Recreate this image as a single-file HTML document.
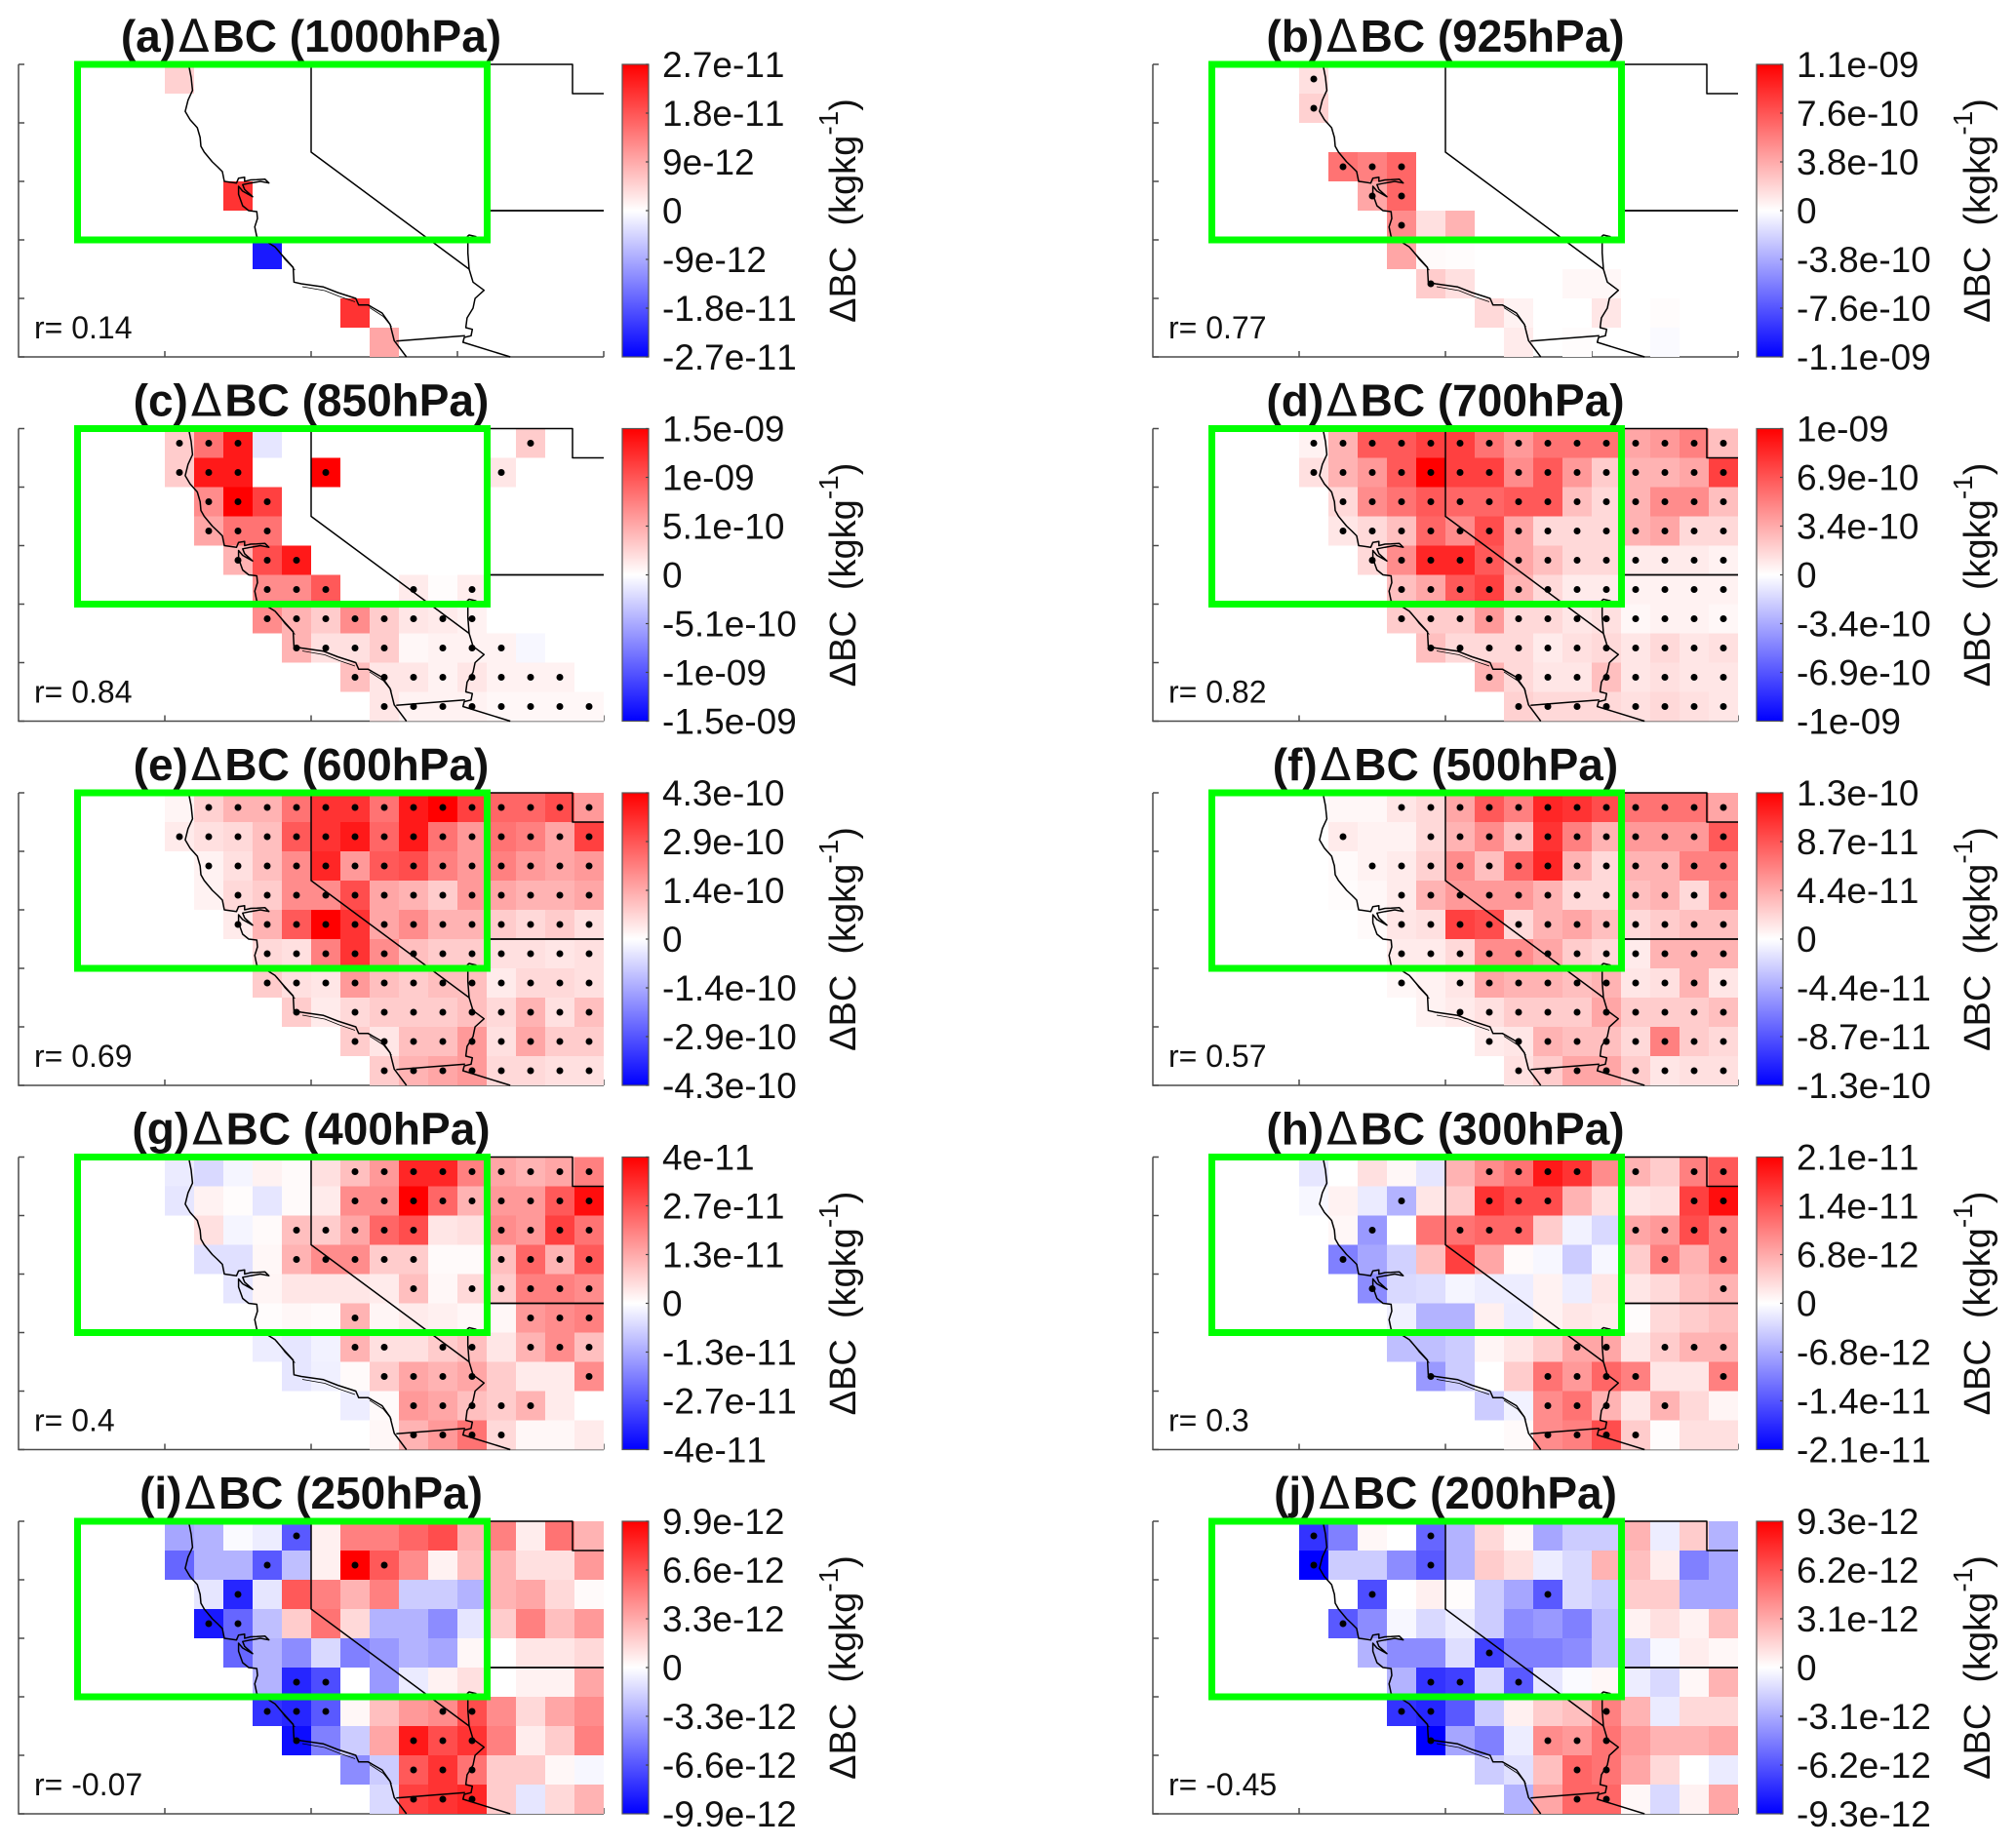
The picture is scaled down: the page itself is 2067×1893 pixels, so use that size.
<!DOCTYPE html>
<html lang="en">
<head>
<meta charset="utf-8">
<title>Delta BC maps by pressure level</title>
<style>
html,body{margin:0;padding:0;background:#fff;}
svg{display:block;}
text{font-family:"Liberation Sans",Arial,sans-serif;fill:#111;font-kerning:none;}
</style>
</head>
<body>
<svg id="fig" xmlns="http://www.w3.org/2000/svg" width="2067" height="1893" viewBox="0 0 2067 1893">
<defs>
<linearGradient id="cbgrad" x1="0" y1="0" x2="0" y2="1">
<stop offset="0" stop-color="#ff0000"/><stop offset="0.5" stop-color="#ffffff"/><stop offset="1" stop-color="#0000ff"/>
</linearGradient>
<g id="basemap" fill="none" stroke="#000" stroke-linejoin="round">
<path stroke-width="1.5" d="M175,3.3 L177,13.3 L178.4,26.7 L173.8,36.7 L170.9,48.3 L175.9,56.7 L183.3,65 L186.2,75 L187,84 L190.4,90 L198.7,100 L204,105 L209,110 L211,120 L223.5,121.7 L225.6,116.7 L231.8,115.7 L231.8,120 L238,118.5 L244.3,118.3 L252.6,117.7 L256.7,121.7 L248,120 L238,121.7 L229.8,123.3 L231.8,128.3 L240,135.7 L229.8,130 L225.6,125 L225.6,133.3 L229.8,145 L236,150 L244.3,151 L245,158 L242.2,166.7 L244.3,176.7 L252.6,180.7 L263,187.3 L271.2,196.7 L281.6,208.3 L282.4,223.3 L289.9,225 L312.7,228.3 L327.2,234 L345.8,240 L348.7,246.7 L358.3,246.7 L372.8,255 L381,266.7 L385.2,283.3 L397.7,300"/>
<path stroke-width="0.8" d="M265,189 L273,200 L283.5,211 M291,228 L314,232 L329,238 L345,243.5 M360,249.5 L374,258.5 L382.5,269"/>
<path stroke-width="1.5" d="M459.9,176.7 L462,175 L469.4,176.7 M460.7,176.7 L460.7,193.3 L462,210 L466,223.3 L477.3,231.7 L468.1,240 L466,250 L459.9,260 L458.6,270 L465.3,271.7 L464,278.3 L457,280 L455.7,285 L504.2,300"/>
<path stroke-width="1.5" d="M387.3,283.7 L457.8,278.3"/>
<path stroke-width="1.5" d="M300,0 L300,90 L462,210"/>
<path stroke-width="1.5" d="M300,0 L568,0 L568,30 L600,30"/>
<path stroke-width="1.8" d="M478,150 L600,150"/>
</g>
</defs>
</svg>
<script>
const _ = null;
/* Cell values: percent of each panel's colour limit; columns run from the 6th to the 20th grid column, rows north to south */
const valuesA = [
[18,_,_,_,_,_,_,_,_,_,_,_,_,_,_],
[_,_,_,_,_,_,_,_,_,_,_,_,_,_,_],
[_,_,_,_,_,_,_,_,_,_,_,_,_,_,_],
[_,_,_,_,_,_,_,_,_,_,_,_,_,_,_],
[_,_,80,_,_,_,_,_,_,_,_,_,_,_,_],
[_,_,_,_,_,_,_,_,_,_,_,_,_,_,_],
[_,_,_,-90,_,_,_,_,_,_,_,_,_,_,_],
[_,_,_,_,_,_,_,_,_,_,_,_,_,_,_],
[_,_,_,_,_,_,80,_,_,_,_,_,_,_,_],
[_,_,_,_,_,_,_,35,_,_,_,_,_,_,_]];
const valuesB = [
[12,_,_,_,_,_,_,_,_,_,_,_,_,_,_],
[18,_,_,_,_,_,_,_,_,_,_,_,_,_,_],
[_,_,_,_,_,_,_,_,_,_,_,_,_,_,_],
[_,55,50,60,_,_,_,_,_,_,_,_,_,_,_],
[_,_,35,60,_,_,_,_,_,_,_,_,_,_,_],
[_,_,_,45,12,30,_,_,_,_,_,_,_,_,_],
[_,_,_,35,2,1,_,_,_,_,_,_,_,_,_],
[_,_,_,_,20,12,_,_,_,3,3,_,_,_,_],
[_,_,_,_,_,_,15,5,_,_,10,_,1,_,_],
[_,_,_,_,_,_,_,8,_,1,_,_,-2,_,_]];
const valuesC = [
[20,55,90,-10,_,_,_,_,_,_,_,_,20,_,_],
[20,90,90,_,_,100,_,_,_,_,_,10,_,_,_],
[_,45,100,75,_,_,_,_,_,_,_,_,_,_,_],
[_,35,55,55,_,_,_,_,_,_,_,_,_,_,_],
[_,_,30,70,90,_,_,_,_,_,_,_,_,_,_],
[_,_,_,45,45,65,_,_,8,1,7,_,_,_,_],
[_,_,_,45,30,20,45,20,10,8,5,_,_,_,_],
[_,_,_,_,30,12,12,20,3,5,5,5,-3,_,_],
[_,_,_,_,_,_,25,10,10,5,10,5,5,5,_],
[_,_,_,_,_,_,_,10,5,5,5,3,3,3,3]];
const valuesD = [
[5,30,65,65,75,75,55,40,55,55,55,35,40,50,25],
[12,30,40,65,100,75,75,45,65,40,20,30,30,35,75],
[_,15,45,55,65,60,60,65,65,25,15,30,45,45,25],
[_,10,15,25,60,45,70,35,15,15,15,30,35,15,15],
[_,_,15,45,85,85,65,35,25,15,15,8,8,8,5],
[_,_,_,25,35,65,75,30,15,8,8,5,5,5,5],
[_,_,_,20,20,20,40,15,15,10,12,3,5,5,3],
[_,_,_,_,25,15,15,15,8,12,15,10,15,10,12],
[_,_,_,_,_,_,30,15,10,10,25,10,12,10,10],
[_,_,_,_,_,_,_,18,15,15,15,12,15,12,10]];
const valuesE = [
[4,18,30,30,55,80,80,55,90,100,75,60,60,70,40],
[8,12,15,25,65,80,90,60,90,55,40,55,50,35,75],
[_,5,12,25,45,85,40,65,70,50,40,50,40,35,40],
[_,5,15,20,45,45,70,35,30,20,40,35,30,30,35],
[_,_,8,30,65,100,80,35,45,30,30,20,15,20,12],
[_,_,_,15,12,50,80,45,25,20,20,12,12,10,12],
[_,_,_,20,12,10,40,25,20,25,25,8,15,15,12],
[_,_,_,_,20,8,15,20,20,20,25,15,30,12,25],
[_,_,_,_,_,_,20,10,25,25,40,12,35,20,20],
[_,_,_,_,_,_,_,20,30,35,40,15,15,12,12]];
const valuesF = [
[0,3,3,10,15,35,65,50,85,80,70,55,55,55,35],
[_,8,5,5,15,30,45,25,80,50,30,40,40,40,65],
[_,2,5,8,18,45,25,60,85,30,15,30,30,50,50],
[_,1,3,8,30,40,40,40,30,15,15,25,30,15,45],
[_,_,2,10,12,75,70,15,30,35,25,15,20,25,25],
[_,_,_,8,8,15,45,45,35,20,15,8,30,30,30],
[_,_,_,3,5,10,35,30,30,25,30,10,12,30,10],
[_,_,_,_,5,8,12,20,20,20,35,20,20,20,25],
[_,_,_,_,_,_,8,10,30,25,25,15,50,20,15],
[_,_,_,_,_,_,_,12,20,35,35,20,10,12,12]];
const valuesG = [
[-8,-15,-4,5,2,12,25,40,85,85,50,35,30,35,50],
[-10,5,1,-10,2,8,45,45,100,60,30,40,40,65,95],
[_,12,-4,2,25,20,35,60,70,10,12,45,40,75,55],
[_,-12,-12,3,30,45,45,20,20,2,2,25,60,30,65],
[_,_,-10,4,10,10,10,8,25,3,15,20,50,50,45],
[_,_,_,1,3,2,30,4,8,6,3,3,40,45,50],
[_,_,_,-7,-10,-5,30,12,12,20,25,10,30,45,25],
[_,_,_,_,-10,-6,2,20,35,30,35,20,8,8,45],
[_,_,_,_,_,_,-7,2,40,35,25,20,30,8,0],
[_,_,_,_,_,_,_,3,30,40,55,15,3,3,8]];
const valuesH = [
[-10,0,12,3,-10,30,45,55,90,80,45,30,20,50,65],
[-3,5,-8,-30,10,20,80,70,70,30,12,10,12,75,95],
[_,3,-40,0,55,55,60,60,20,-5,-15,35,40,70,50],
[_,-50,-35,-18,25,75,35,2,-3,-20,-3,20,50,30,50],
[_,_,-45,-15,-13,-4,-7,-7,5,-7,10,10,15,25,30],
[_,_,_,-6,-30,-30,6,-8,5,10,8,1,15,20,25],
[_,_,_,-25,-25,-20,4,10,20,35,35,10,20,30,30],
[_,_,_,_,-40,-20,0,20,55,40,60,50,10,10,50],
[_,_,_,_,_,_,-20,-5,45,55,30,10,30,15,4],
[_,_,_,_,_,_,_,2,45,50,70,20,1,12,12]];
const valuesI = [
[-35,-30,-2,-7,-65,6,50,50,60,70,30,50,7,55,30],
[-60,-30,-30,-65,-25,6,100,65,45,5,25,30,12,12,40],
[_,-10,-85,-10,65,50,30,50,-20,-20,-30,30,35,15,2],
[_,-90,-60,-25,20,55,15,-30,-30,-45,-10,20,50,25,40],
[_,_,-60,-30,-45,-15,-50,-40,-30,-35,3,0,10,10,15],
[_,_,_,-30,-85,-70,0,-40,-8,5,12,0,5,5,35],
[_,_,_,-80,-85,-65,3,25,40,45,70,45,15,35,45],
[_,_,_,_,-95,-50,-20,35,90,70,80,50,7,20,50],
[_,_,_,_,_,_,-45,-20,65,80,55,20,20,3,-3],
[_,_,_,_,_,_,_,-15,75,80,85,20,-10,15,30]];
const valuesJ = [
[-80,-50,3,0,-60,-30,15,3,-35,-20,-20,30,-7,20,-30],
[-100,-20,-20,-45,-65,-30,20,12,-7,-15,30,25,7,-50,-35],
[_,0,-70,0,6,1,-20,-35,-65,-15,-20,20,20,-35,-35],
[_,-65,-45,-3,-15,-7,-20,-45,-40,-50,-25,5,12,5,25],
[_,_,-30,-45,-45,-13,-75,-50,-50,-45,-25,-20,-3,7,3],
[_,_,_,-30,-80,-75,-15,-65,-10,-2,3,-7,-15,3,30],
[_,_,_,-80,-85,-65,-20,6,20,25,50,30,-8,15,15],
[_,_,_,_,-100,-35,-50,-7,45,40,55,40,30,30,35],
[_,_,_,_,_,_,-20,-12,25,60,55,35,15,0,-8],
[_,_,_,_,_,_,_,-30,35,60,60,3,-15,5,35]];

/* Significance flags per cell (1 = dot) */
const sigA = ["000000000000000","000000000000000","000000000000000","000000000000000","000000000000000","000000000000000","000000000000000","000000000000000","000000000000000","000000000000000"];
const sigB = ["100000000000000","100000000000000","000000000000000","011100000000000","001100000000000","000100000000000","000000000000000","000010000000000","000000000000000","000000000000000"];
const sigC = ["111000000000100","111001000001000","011100000000000","011100000000000","001110000000000","000111001010000","000111111110000","000011110111000","000000111111110","000000011111111"];
const sigD = ["111111111111111","111111111111111","011111111111111","011111111111111","001111111111111","000111111111111","000111111111111","000011111111111","000000111111111","000000011111111"];
const sigE = ["011111111111111","111111111111111","011111111111111","001111111111111","001111111111111","000111111111111","000111111111111","000010111111111","000000111111111","000000011111111"];
const sigF = ["000111111111111","010011111111111","001111111111111","000111111111111","000111111111111","000111111111111","000101111111111","000001111111111","000000111111111","000000011111111"];
const sigG = ["000000111111111","000000111111111","000011111001111","000011111001111","000000001011111","000000100000111","000000110110111","000000011110001","000000001111100","000000001111000"];
const sigH = ["000000111101011","000100111000011","001001110001111","010000000000101","001000000000001","000000000000000","000000000110111","000010001111001","000000001110100","000000001111000"];
const sigI = ["000010000000000","000100110000000","001000000000000","011000000000000","000000000000000","000011000000000","000111000110000","000010001110000","000000001110000","000000001110000"];
const sigJ = ["100010000000000","100010000000000","001000001000000","010000000000000","000000100000000","000011010000000","000110000010000","000010001110000","000000000110000","000000000110000"];

const panelValues = [valuesA,valuesB,valuesC,valuesD,valuesE,valuesF,valuesG,valuesH,valuesI,valuesJ];
const panelSig = [sigA,sigB,sigC,sigD,sigE,sigF,sigG,sigH,sigI,sigJ];
const panelLetters = ["(a)","(b)","(c)","(d)","(e)","(f)","(g)","(h)","(i)","(j)"];
const panelLevels = ["1000hPa","925hPa","850hPa","700hPa","600hPa","500hPa","400hPa","300hPa","250hPa","200hPa"];
const panelR = ["r= 0.14","r= 0.77","r= 0.84","r= 0.82","r= 0.69","r= 0.57","r= 0.4","r= 0.3","r= -0.07","r= -0.45"];
const tickLabelsA = ["2.7e-11","1.8e-11","9e-12","0","-9e-12","-1.8e-11","-2.7e-11"];
const tickLabelsB = ["1.1e-09","7.6e-10","3.8e-10","0","-3.8e-10","-7.6e-10","-1.1e-09"];
const tickLabelsC = ["1.5e-09","1e-09","5.1e-10","0","-5.1e-10","-1e-09","-1.5e-09"];
const tickLabelsD = ["1e-09","6.9e-10","3.4e-10","0","-3.4e-10","-6.9e-10","-1e-09"];
const tickLabelsE = ["4.3e-10","2.9e-10","1.4e-10","0","-1.4e-10","-2.9e-10","-4.3e-10"];
const tickLabelsF = ["1.3e-10","8.7e-11","4.4e-11","0","-4.4e-11","-8.7e-11","-1.3e-10"];
const tickLabelsG = ["4e-11","2.7e-11","1.3e-11","0","-1.3e-11","-2.7e-11","-4e-11"];
const tickLabelsH = ["2.1e-11","1.4e-11","6.8e-12","0","-6.8e-12","-1.4e-11","-2.1e-11"];
const tickLabelsI = ["9.9e-12","6.6e-12","3.3e-12","0","-3.3e-12","-6.6e-12","-9.9e-12"];
const tickLabelsJ = ["9.3e-12","6.2e-12","3.1e-12","0","-3.1e-12","-6.2e-12","-9.3e-12"];
const panelTicks = [tickLabelsA,tickLabelsB,tickLabelsC,tickLabelsD,tickLabelsE,tickLabelsF,tickLabelsG,tickLabelsH,tickLabelsI,tickLabelsJ];

const NS = "http://www.w3.org/2000/svg";
const fig = document.getElementById("fig");
const CELL = 30, COL_OFFSET = 5, PLOT_W = 600, PLOT_H = 300;
function panelX(i){ return 19 + 1163 * (i % 2); }
function panelY(i){ return 66 + 373.5 * Math.floor(i / 2); }
function xCell(col){ return (col + COL_OFFSET) * CELL; }
function yCell(row){ return row * CELL; }
function cellColor(v){
  const t = Math.max(-1, Math.min(1, v / 100));
  const k = Math.round(255 * (1 - Math.abs(t)));
  return t >= 0 ? "rgb(255," + k + "," + k + ")" : "rgb(" + k + "," + k + ",255)";
}
function mk(parent, tag, attrs, txt){
  const el = document.createElementNS(NS, tag);
  for (const a in attrs) el.setAttribute(a, attrs[a]);
  if (txt !== undefined) el.textContent = txt;
  parent.appendChild(el);
  return el;
}

panelValues.forEach(function(values, p){
  const px = panelX(p), py = panelY(p);
  const letter = panelLetters[p].charAt(1);
  const g = mk(fig, "g", {transform: "translate(" + px + "," + py + ")"});
  
  

  /* axes */
  const axes = mk(g, "g", {stroke: "#4a4a4a", "stroke-width": 1.5, fill: "none"});
  
  
  mk(axes, "path", {d: "M0,0 V" + PLOT_H + " H" + PLOT_W});
  for (let i = 0; i <= 5; i++) {
    const yt = mk(axes, "line", {x1: 0, x2: 6, y1: i * 60, y2: i * 60});
    
    
  }
  for (let i = 1; i <= 4; i++) {
    const xt = mk(axes, "line", {x1: i * 150, x2: i * 150, y1: PLOT_H, y2: PLOT_H - 6});
    
    
  }

  /* heatmap cells */
  const cells = mk(g, "g", {"shape-rendering": "crispEdges"});
  
  
  values.forEach(function(row, r){
    row.forEach(function(v, c){
      if (v === null) return;
      const rect = mk(cells, "rect", {x: xCell(c), y: yCell(r), width: CELL, height: CELL, fill: cellColor(v)});
      
      
    });
  });

  /* state and coast outlines */
  const map = mk(g, "use", {href: "#basemap"});
  
  

  /* significance dots */
  const dots = mk(g, "g", {fill: "#000"});
  
  
  panelSig[p].forEach(function(flags, r){
    for (let c = 0; c < flags.length; c++) {
      if (flags.charAt(c) !== "1" || values[r][c] === null) continue;
      const dot = mk(dots, "circle", {cx: xCell(c) + CELL / 2, cy: yCell(r) + CELL / 2, r: 3.5});
      
      
    }
  });

  /* r annotation */
  const rt = mk(g, "text", {x: 16, y: 281, "font-size": 32}, panelR[p]);
  
  

  /* title */
  const title = mk(g, "text", {x: 300, y: -13, "text-anchor": "middle", "font-size": 46, "font-weight": "bold", fill: "#000"});
  
  
  mk(title, "tspan", {}, panelLetters[p]);
  mk(title, "tspan", {"font-family": "'DejaVu Sans',sans-serif", "font-weight": "normal", dx: 3}, "\u0394");
  mk(title, "tspan", {dx: 3}, "BC (" + panelLevels[p] + ")");

  /* highlight box */
  const box = mk(g, "rect", {x: 60.5, y: 0, width: 420, height: 180, fill: "none", stroke: "#00ff00", "stroke-width": 7});
  
  

  /* colour bar */
  const cb = mk(g, "g", {});
  
  
  const bar = mk(cb, "rect", {x: 619, y: 0, width: 27, height: PLOT_H, fill: "url(#cbgrad)", stroke: "#555", "stroke-width": 1.2});
  
  
  panelTicks[p].forEach(function(label, i){
    const ty = i * PLOT_H / (panelTicks[p].length - 1);
    const tick = mk(cb, "line", {x1: 643, x2: 646, y1: ty, y2: ty, stroke: "#444", "stroke-width": 1.2});
    
    
    const tl = mk(cb, "text", {x: 660, y: ty + 13, "font-size": 37}, label);
    
    
  });

  /* colour bar title */
  const lab = mk(cb, "text", {transform: "translate(858," + (PLOT_H / 2) + ") rotate(-90)", "text-anchor": "middle", "font-size": 38});
  
  
  mk(lab, "tspan", {}, "\u0394BC \u00a0(kgkg");
  mk(lab, "tspan", {"font-size": 28, dy: -18}, "-1");
  mk(lab, "tspan", {dy: 18}, ")");
});
</script>
</body>
</html>
